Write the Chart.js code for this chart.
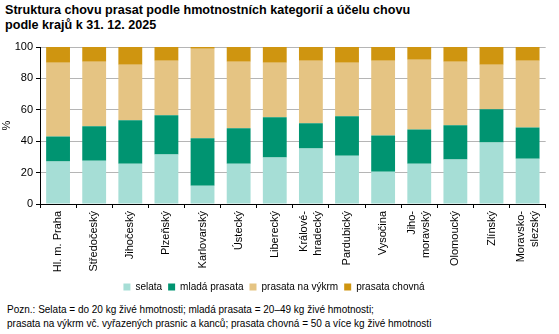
<!DOCTYPE html>
<html lang="cs">
<head>
<meta charset="utf-8">
<script src="https://cdn.jsdelivr.net/npm/chart.js@4"></script>
<style>
  html, body { margin: 0; padding: 0; background: #fff; }
  body { width: 559px; height: 334px; position: relative; overflow: hidden; font-family: "Liberation Sans", Arial, sans-serif; }
  #title { position: absolute; left: 5px; top: 3px; font-size: 12.6px; font-weight: bold; line-height: 15px; color: #000; }
  #chart-box { position: absolute; left: 0; top: 36px; width: 559px; height: 266px; }
  #note { position: absolute; left: 7px; top: 303px; font-size: 10px; line-height: 14px; color: #000; }
</style>
</head>
<body>
<div id="title">Struktura chovu prasat podle hmotnostních kategorií a účelu chovu<br>podle krajů k 31. 12. 2025</div>
<div id="chart-box"><canvas id="pigs-chart"></canvas></div>
<div id="note">Pozn.: Selata = do 20 kg živé hmotnosti; mladá prasata = 20–49 kg živé hmotnosti;<br>prasata na výkrm vč. vyřazených prasnic a kanců; prasata chovná = 50 a více kg živé hmotnosti</div>

<script>
const regions = [
  'Hl. m. Praha', 'Středočeský', 'Jihočeský', 'Plzeňský', 'Karlovarský', 'Ústecký', 'Liberecký',
  ['Králové-', 'hradecký'], 'Pardubický', 'Vysočina', ['Jiho-', 'moravský'], 'Olomoucký', 'Zlínský',
  ['Moravsko-', 'slezský']
];

// shares in %
const selata = [27.0, 27.6, 25.7, 31.5, 11.6, 25.7, 29.6, 35.3, 30.8, 20.6, 25.7, 28.3, 39.2, 28.9];
const mlada = [16.0, 21.9, 27.6, 25.0, 30.2, 22.5, 25.6, 16.1, 25.1, 23.1, 21.8, 21.8, 21.2, 19.9];
const vykrm = [46.9, 41.1, 35.4, 34.7, 57.1, 42.4, 34.7, 39.8, 34.0, 47.5, 44.4, 40.5, 28.3, 42.4];
const chovna = [10.1, 9.4, 11.3, 8.8, 1.1, 9.4, 10.1, 8.8, 10.1, 8.8, 8.1, 9.4, 11.3, 8.8];

const yTicks = [0, 20, 40, 60, 80, 100];

const chartCanvas = document.getElementById('pigs-chart');
const font = '"Liberation Sans", Arial, sans-serif';
const labelLineHeight = 14;

function series(label, data, color) {
  return {
    label: label,
    data: data,
    backgroundColor: color,
    borderWidth: 0,
    barPercentage: 0.66,
    categoryPercentage: 1.0
  };
}

// two-line category labels: center the whole block on the bar, not just the first line
const centerMultiline = {
  id: 'centerMultiline',
  beforeDraw(chart) {
    const scale = chart.scales.x;
    scale.getLabelItems().forEach(item => {
      if (Array.isArray(item.label) && !item._shifted) {
        item.options.translation[0] -= (item.label.length - 1) * labelLineHeight / 2;
        item._shifted = true;
      }
    });
  }
};

const chart = new Chart(chartCanvas, {
  type: 'bar',
  data: {
    labels: regions,
    datasets: [
      series('selata', selata, '#a6ded6'),
      series('mladá prasata', mlada, '#009471'),
      series('prasata na výkrm', vykrm, '#e5c483'),
      series('prasata chovná', chovna, '#cf9510')
    ]
  },
  plugins: [centerMultiline],
  options: {
    responsive: true,
    maintainAspectRatio: false,
    animation: false,
    layout: { padding: { left: 0, right: 11, top: 11, bottom: 0 } },
    plugins: {
      tooltip: { enabled: false },
      legend: {
        position: 'bottom',
        labels: {
          boxWidth: 7,
          boxHeight: 7,
          padding: 6,
          color: '#000',
          font: { family: font, size: 10 }
        }
      }
    },
    scales: {
      x: {
        stacked: true,
        border: { color: '#000', width: 1 },
        grid: { drawOnChartArea: false, offset: true, tickColor: '#000', tickLength: 4 },
        ticks: {
          minRotation: 90,
          maxRotation: 90,
          autoSkip: false,
          padding: 3,
          color: '#000',
          font: { family: font, size: 11, lineHeight: labelLineHeight / 11 }
        },
        afterFit: (scale) => { scale.height = 72; }
      },
      y: {
        stacked: true,
        min: 0,
        max: 100,
        afterBuildTicks: (scale) => { scale.ticks = yTicks.map(v => ({ value: v })); },
        border: { color: '#000', width: 1 },
        grid: { color: '#b5b5b5', tickColor: '#000', tickLength: 4 },
        ticks: { color: '#000', padding: 3, font: { family: font, size: 11 } },
        title: { display: true, text: '%', color: '#000', padding: 0, font: { family: font, size: 11 } },
        afterFit: (scale) => { scale.width = 40; }
      }
    }
  }
});
</script>
</body>
</html>
